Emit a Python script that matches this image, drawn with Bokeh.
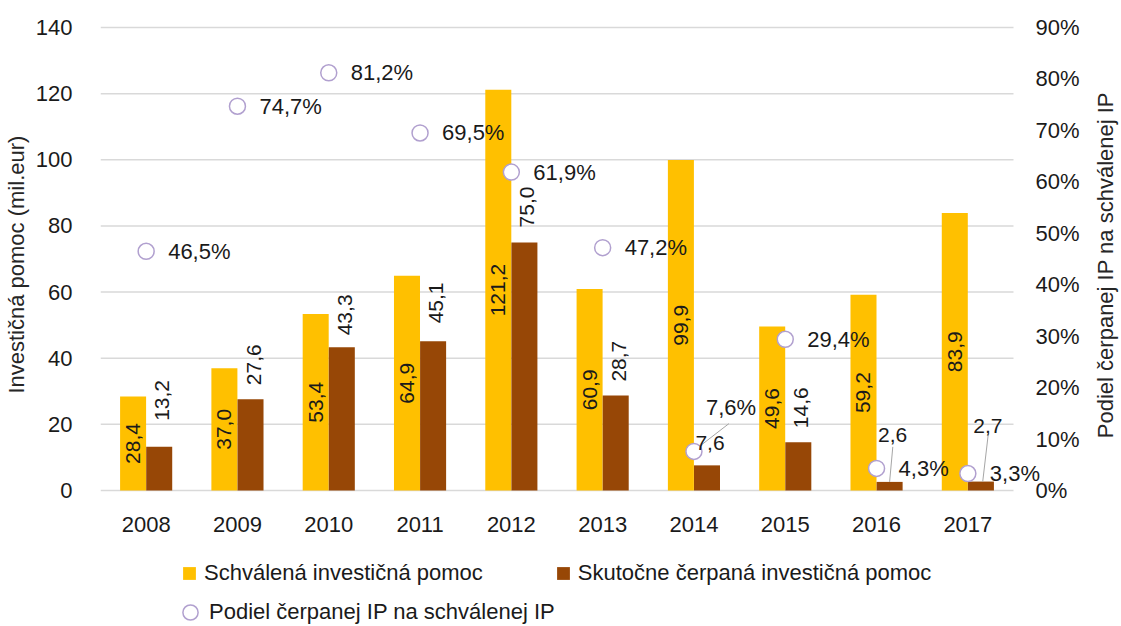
import math
from bokeh.plotting import figure
from bokeh.models import (Range1d, FixedTicker, ColumnDataSource, LabelSet, Label,
                          Legend, LegendItem)
from bokeh.core.properties import value
from bokeh.embed import file_html
from bokeh.resources import INLINE

# ---------------- data ----------------
years = ["2008", "2009", "2010", "2011", "2012", "2013", "2014", "2015", "2016", "2017"]
approved = [28.4, 37.0, 53.4, 64.9, 121.2, 60.9, 99.9, 49.6, 59.2, 83.9]
drawn = [13.2, 27.6, 43.3, 45.1, 75.0, 28.7, 7.6, 14.6, 2.6, 2.7]
share = [46.5, 74.7, 81.2, 69.5, 61.9, 47.2, 7.6, 29.4, 4.3, 3.3]
left_ticks = [0, 20, 40, 60, 80, 100, 120, 140]
right_ticks = [0, 10, 20, 30, 40, 50, 60, 70, 80, 90]
right_tick_labels = [f"{t}%" for t in right_ticks]

# ---------------- style ----------------
FONT = "Liberation Sans"
YELLOW = "#FFC000"
BROWN = "#974706"
CIRCLE = "#B1A0CF"
TXT = "#1a1a1a"
TITLE = "#262626"
DODGE = 0.143
BAR_W = 0.285
FRAME_W, FRAME_H = 1021, 626
PX_X = 91.3                 # px per category
PX_Y = 463 / 140            # px per left-axis unit
ABOVE = 27 / PX_Y           # frame room above the top tick
BELOW = 136 / PX_Y          # frame room below zero (year labels + legend)


def fmt(v, suffix=""):
    return f"{v:.1f}".replace(".", ",") + suffix


idx = list(range(len(years)))
n = len(years)
ymax = left_ticks[-1]
pmax = right_ticks[-1]
k = pmax / ymax

p = figure(frame_width=FRAME_W, frame_height=FRAME_H,
           x_range=Range1d(-0.5, -0.5 + FRAME_W / PX_X),
           y_range=Range1d(-BELOW, ymax + ABOVE), output_backend="svg",
           toolbar_location=None, x_axis_location=None, title_location=None,
           min_border_left=100, min_border_right=0, min_border_top=0,
           min_border_bottom=0)
p.extra_y_ranges = {"pct": Range1d(-BELOW * k, (ymax + ABOVE) * k)}
p.outline_line_color = None
p.background_fill_color = "white"
p.border_fill_color = "white"
p.xgrid.visible = False
p.ygrid.visible = False

# horizontal grid lines over the category area only
p.segment(x0=[-0.5] * len(left_ticks), x1=[n - 0.5] * len(left_ticks),
          y0=left_ticks, y1=left_ticks, line_color="#D9D9D9", line_width=1.5)

# left axis
ax = p.yaxis[0]
ax.ticker = FixedTicker(ticks=left_ticks)
ax.bounds = (0, ymax)
# leading no-break spaces shift the centred title up to the middle of the 0..140 span
ax.axis_label = "\u00a0" * 17 + "Investičná  pomoc (mil.eur)"
ax.axis_label_standoff = 4
ax.major_label_standoff = 22
ax.axis_line_color = None
ax.major_tick_line_color = None
ax.minor_tick_line_color = None
ax.major_label_text_font = FONT
ax.major_label_text_font_size = "22px"
ax.major_label_text_color = TXT
ax.axis_label_text_font = FONT
ax.axis_label_text_font_size = "22px"
ax.axis_label_text_font_style = "normal"
ax.axis_label_text_color = TITLE

# right (percent) axis labels on the "pct" scale
src_rt = ColumnDataSource(dict(x=[n - 0.5] * len(right_ticks), y=right_ticks,
                               t=right_tick_labels))
p.add_layout(LabelSet(x="x", y="y", text="t", source=src_rt, y_range_name="pct",
                      x_offset=22, text_align="left", text_baseline="middle",
                      text_font=value(FONT), text_font_size="22px", text_color=TXT))
p.add_layout(Label(x=n - 0.5, y=pmax / 2, y_range_name="pct", x_offset=92,
                   text="Podiel čerpanej  IP na schválenej  IP", angle=math.pi / 2,
                   text_align="center", text_baseline="middle", text_font=FONT,
                   text_font_size="22px", text_color=TITLE))

# category labels (x axis)
src_years = ColumnDataSource(dict(x=idx, y=[0] * n, t=years))
p.add_layout(LabelSet(x="x", y="y", text="t", source=src_years, y_offset=-34,
                      text_align="center", text_baseline="middle", text_font=value(FONT),
                      text_font_size="22px", text_color=TXT))

# bars
r_app = p.vbar(x=[i - DODGE for i in idx], top=approved, width=BAR_W,
               fill_color=YELLOW, line_color=None)
r_drw = p.vbar(x=[i + DODGE for i in idx], top=drawn, width=BAR_W,
               fill_color=BROWN, line_color=None)

lab = dict(text_font=value(FONT), text_font_size="21px", text_color=TXT)

# approved labels (centered inside bar, rotated)
src_app = ColumnDataSource(dict(x=[i - DODGE for i in idx], y=[v / 2 for v in approved],
                                t=[fmt(v) for v in approved]))
p.add_layout(LabelSet(x="x", y="y", text="t", source=src_app, angle=math.pi / 2,
                      text_align="center", text_baseline="middle", **lab))

# drawn labels: rotated above bar, except a few horizontal ones
horiz = {6: (3, 15), 8: (3, 40), 9: (7, 49)}
rot_off = {0: 26, 1: 14, 2: 12, 3: 18, 4: 15, 5: 14, 7: 14}
rot_i = [i for i in idx if i not in horiz]
src_drw_r = ColumnDataSource(dict(x=[i + DODGE for i in rot_i], y=[drawn[i] for i in rot_i],
                                  t=[fmt(drawn[i]) for i in rot_i],
                                  yo=[rot_off[i] for i in rot_i]))
p.add_layout(LabelSet(x="x", y="y", text="t", source=src_drw_r, angle=math.pi / 2,
                      x_offset=3, y_offset="yo",
                      text_align="left", text_baseline="middle", **lab))
h_i = sorted(horiz)
src_drw_h = ColumnDataSource(dict(x=[i + DODGE for i in h_i], y=[drawn[i] for i in h_i],
                                  t=[fmt(drawn[i]) for i in h_i],
                                  xo=[horiz[i][0] for i in h_i],
                                  yo=[horiz[i][1] for i in h_i]))
p.add_layout(LabelSet(x="x", y="y", text="t", source=src_drw_h, x_offset="xo", y_offset="yo",
                      text_align="center", text_baseline="alphabetic", **lab))

# leader lines
gray = "#A6A6A6"
p.segment(x0=[8 + DODGE], y0=[drawn[8]], x1=[8 + DODGE + 0.035], y1=[drawn[8] + 10.6],
          line_color=gray, line_width=1)
p.segment(x0=[9 + DODGE + 0.02], y0=[drawn[9]], x1=[9 + DODGE + 0.08], y1=[drawn[9] + 14.2],
          line_color=gray, line_width=1)
p.segment(x0=[6 + 0.077], y0=[share[6] + 1.2], x1=[6 + 0.383], y1=[share[6] + 5.4],
          y_range_name="pct", line_color=gray, line_width=1)

# share labels
pct_off = {6: (12, 44)}
src_pct = ColumnDataSource(dict(x=idx, y=share, t=[fmt(v, "%") for v in share],
                                xo=[pct_off.get(i, (22, 0))[0] for i in idx],
                                yo=[pct_off.get(i, (22, 0))[1] for i in idx]))
p.add_layout(LabelSet(x="x", y="y", text="t", source=src_pct, y_range_name="pct",
                      x_offset="xo", y_offset="yo", text_align="left",
                      text_baseline="middle", text_font=value(FONT),
                      text_font_size="22px", text_color=TXT))

# share markers
r_sh = p.scatter(x=idx, y=share, y_range_name="pct", marker="circle", size=16,
                 fill_color="white", line_color=CIRCLE, line_width=1.5)

# legends
common = dict(label_text_font=FONT, label_text_font_size="22px", label_text_color=TXT,
              padding=0, margin=0, border_line_color=None, background_fill_alpha=0)
leg1 = Legend(items=[LegendItem(label="Schválená investičná pomoc", renderers=[r_app]),
                     LegendItem(label="Skutočne čerpaná investičná pomoc", renderers=[r_drw])],
              orientation="horizontal", spacing=72, location=(81, 40),
              glyph_width=16, glyph_height=16, label_standoff=7, **common)
leg2 = Legend(items=[LegendItem(label="Podiel čerpanej IP na schválenej IP", renderers=[r_sh])],
              orientation="horizontal", location=(71, -5),
              glyph_width=38, glyph_height=38, label_standoff=-8, **common)
p.add_layout(leg1)
p.add_layout(leg2)

open("out.html", "w").write(file_html(p, INLINE))
